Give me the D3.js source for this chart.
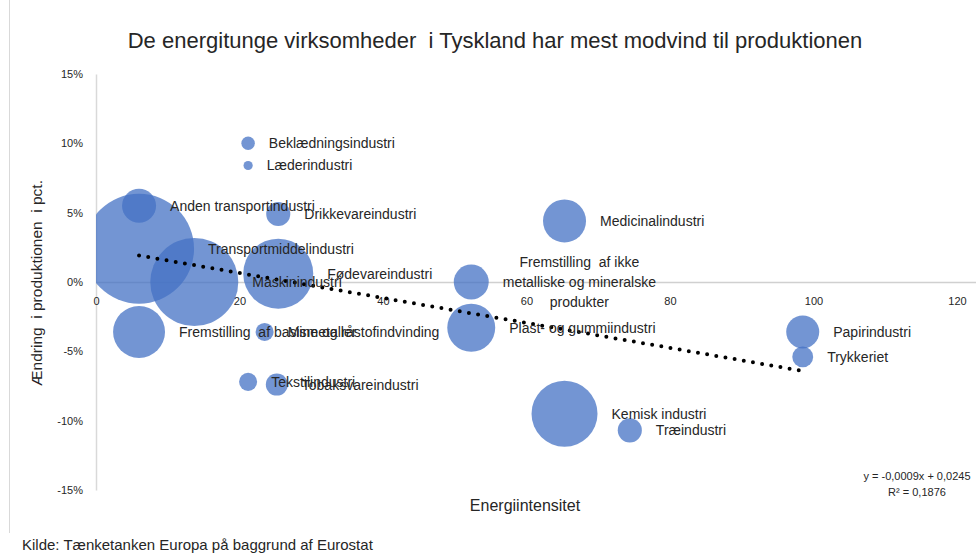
<!DOCTYPE html>
<html>
<head>
<meta charset="utf-8">
<script src="https://cdn.jsdelivr.net/npm/d3@7"></script>
<style>
  body { margin: 0; background: #fff; }
  text { font-family: "Liberation Sans", Arial, sans-serif; fill: #262626; }
</style>
</head>
<body>
<div id="viz"></div>
<script>
// data
var industries = ["Beklædningsindustri", "Læderindustri", "Anden transportindustri", "Transportmiddelindustri",
  "Maskinindustri", "Fødevareindustri", "Drikkevareindustri", "Fremstilling  af basismetaller",
  "Mine og råstofindvinding", "Tekstilindustri", "Tobaksvareindustri",
  "Fremstilling  af ikke\nmetalliske og mineralske\nprodukter", "Plast- og gummiindustri",
  "Medicinalindustri", "Kemisk industri", "Træindustri", "Papirindustri", "Trykkeriet"];
var intensity = [21.2, 21.2, 6.0, 6.0, 13.7, 25.4, 25.4, 6.0, 23.5, 21.2, 25.2, 52.3, 52.3, 65.3, 65.3, 74.4, 98.5, 98.5];
var change = [0.100, 0.084, 0.055, 0.024, 0.000, 0.006, 0.049, -0.036, -0.036, -0.072, -0.074, 0.000, -0.033, 0.044, -0.095, -0.107, -0.036, -0.054];
var bubbleSize = [1.5, 0.7, 9.6, 100, 64, 40.5, 4.8, 22.3, 2.7, 2.7, 4.0, 10.1, 19.0, 15.3, 36.0, 4.8, 9.0, 3.6];
var xTicks = [0, 20, 40, 60, 80, 100, 120];
var yTicks = [-0.15, -0.10, -0.05, 0, 0.05, 0.10, 0.15];
var trendSlope = -0.0009, trendIntercept = 0.0245;

var W = 976, H = 553;
var svg = d3.select("#viz").append("svg").attr("width", W).attr("height", H);

var x = d3.scaleLinear().domain([0, 122.65]).range([96, 976]);
var y = d3.scaleLinear().domain([-0.15, 0.15]).range([490, 74]);
var r = d3.scaleSqrt().domain([0, 100]).range([0, 55]);

// outer border line on the left
svg.append("line").attr("x1", 9.5).attr("x2", 9.5).attr("y1", 0).attr("y2", 533)
  .attr("stroke", "#d9d9d9");

// title
svg.append("text").attr("x", 495).attr("y", 48).attr("text-anchor", "middle")
  .style("font-size", "22px").attr("xml:space", "preserve")
  .text("De energitunge virksomheder  i Tyskland har mest modvind til produktionen");

// y axis
var yAxis = svg.append("g").attr("transform", "translate(96,0)")
  .call(d3.axisLeft(y).tickValues(yTicks).tickSize(0).tickPadding(13)
    .tickFormat(function(d){ return Math.round(d * 100) + "%"; }));
yAxis.select(".domain").attr("stroke", "#d9d9d9").attr("stroke-width", 1.5);
yAxis.selectAll("text").style("font-size", "11px").style("font-family", "Liberation Sans, Arial, sans-serif").attr("fill", "#262626");

// x axis at 0 %
var xAxis = svg.append("g").attr("transform", "translate(0," + y(0) + ")")
  .call(d3.axisBottom(x).tickValues(xTicks).tickSize(0).tickPadding(15));
xAxis.select(".domain").attr("stroke", "#d0d0d0").attr("stroke-width", 1.5);
xAxis.selectAll("text").style("font-size", "11px").style("font-family", "Liberation Sans, Arial, sans-serif").attr("fill", "#262626");

// axis titles
svg.append("text").attr("transform", "translate(42,283) rotate(-90)").attr("text-anchor", "middle")
  .style("font-size", "15.5px").attr("xml:space", "preserve").text("Ændring  i produktionen  i pct.");
svg.append("text").attr("x", 525).attr("y", 511).attr("text-anchor", "middle")
  .style("font-size", "16px").text("Energiintensitet");

// bubbles, clipped to plot area
svg.append("clipPath").attr("id", "plot").append("rect")
  .attr("x", 96).attr("y", 74).attr("width", 880).attr("height", 416);

var pts = industries.map(function(name, i){
  return { name: name, x: intensity[i], y: change[i], s: bubbleSize[i] };
});

svg.append("g").attr("clip-path", "url(#plot)")
  .selectAll("circle").data(pts).enter().append("circle")
  .attr("cx", function(d){ return x(d.x); })
  .attr("cy", function(d){ return y(d.y); })
  .attr("r", function(d){ return r(d.s); })
  .attr("fill", "#4472C4").attr("fill-opacity", 0.75);

// trendline
var xs = d3.extent(intensity);
svg.append("line")
  .attr("x1", x(xs[0])).attr("y1", y(trendIntercept + trendSlope * xs[0]))
  .attr("x2", x(xs[1])).attr("y2", y(trendIntercept + trendSlope * xs[1]))
  .attr("stroke", "#000").attr("stroke-width", 4)
  .attr("stroke-linecap", "round").attr("stroke-dasharray", "0 9.3");

// data labels to the right of each bubble
var labels = svg.append("g").selectAll("text").data(pts).enter().append("text")
  .attr("xml:space", "preserve")
  .style("font-size", "14px")
  .attr("y", function(d){ return y(d.y); })
  .attr("dy", "0.35em");

labels.each(function(d){
  var t = d3.select(this);
  var lines = d.name.split("\n");
  var left = x(d.x) + r(d.s) + 14;
  if (lines.length == 1) {
    t.attr("x", left).text(d.name);
  } else {
    var spans = lines.map(function(l, i){
      return t.append("tspan").attr("dy", i == 0 ? (-(lines.length - 1) / 2 * 1.45 + 0.35) + "em" : "1.45em").text(l);
    });
    var widest = d3.max(spans, function(s){ return s.node().getComputedTextLength(); });
    t.attr("text-anchor", "middle").attr("dy", null);
    spans.forEach(function(s){ s.attr("x", left + widest / 2); });
  }
});

// regression text
var eq = svg.append("g").attr("text-anchor", "middle");
eq.append("text").attr("x", 917).attr("y", 480).style("font-size", "11px").text("y = -0,0009x + 0,0245");
eq.append("text").attr("x", 917).attr("y", 496).style("font-size", "11px").text("R² = 0,1876");

// source
svg.append("text").attr("x", 22).attr("y", 550).style("font-size", "15px")
  .text("Kilde: Tænketanken Europa på baggrund af Eurostat");
</script>
</body>
</html>
